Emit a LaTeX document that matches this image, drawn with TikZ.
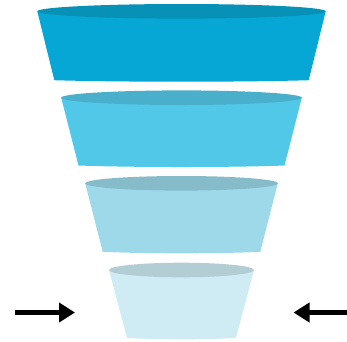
\documentclass[tikz,border=0pt]{standalone}
\usetikzlibrary{arrows.meta}
\definecolor{bodyA}{HTML}{06A7D4}
\definecolor{rimA}{HTML}{0891B6}
\definecolor{bodyB}{HTML}{52C8E8}
\definecolor{rimB}{HTML}{4AAFCB}
\definecolor{bodyC}{HTML}{9ED9EA}
\definecolor{rimC}{HTML}{86BBC9}
\definecolor{bodyD}{HTML}{CFEBF4}
\definecolor{rimD}{HTML}{B2CDD4}

\begin{document}
\begin{tikzpicture}[x=1pt,y=-1pt,
  push/.style={-{Triangle[length=16pt,width=19pt]},line width=5pt,black}
]
\useasboundingbox (0,0) rectangle (347,341);

% funnel tiers: top half-width / bottom half-width / rim y / bottom y / colour
\foreach \a/\b/\yt/\yb/\c in {144.2/127.2/11.3/81.7/A,
                               120.3/103.0/97.7/167.0/B,
                               96.3/78.8/183.3/253.3/C,
                               72.5/54.5/270.0/339.3/D}{
  \fill[body\c] (181.5-\a,\yt) -- (181.5-\b,\yb-1.5)
     .. controls (181.5-\b/2,\yb+0.5) and (181.5+\b/2,\yb+0.5) .. (181.5+\b,\yb-1.5)
     -- (181.5+\a,\yt) -- cycle;
  \fill[rim\c] (181.5,\yt) ellipse [x radius=\a pt, y radius=7.3pt];
}

\coordinate (lt) at (15,312.5);
\coordinate (lh) at (75,312.5);
\coordinate (rt) at (347,312.5);
\coordinate (rh) at (293.5,312.5);

\draw[push] (lt) -- (lh);
\draw[push] (rt) -- (rh);
\end{tikzpicture}
\end{document}
